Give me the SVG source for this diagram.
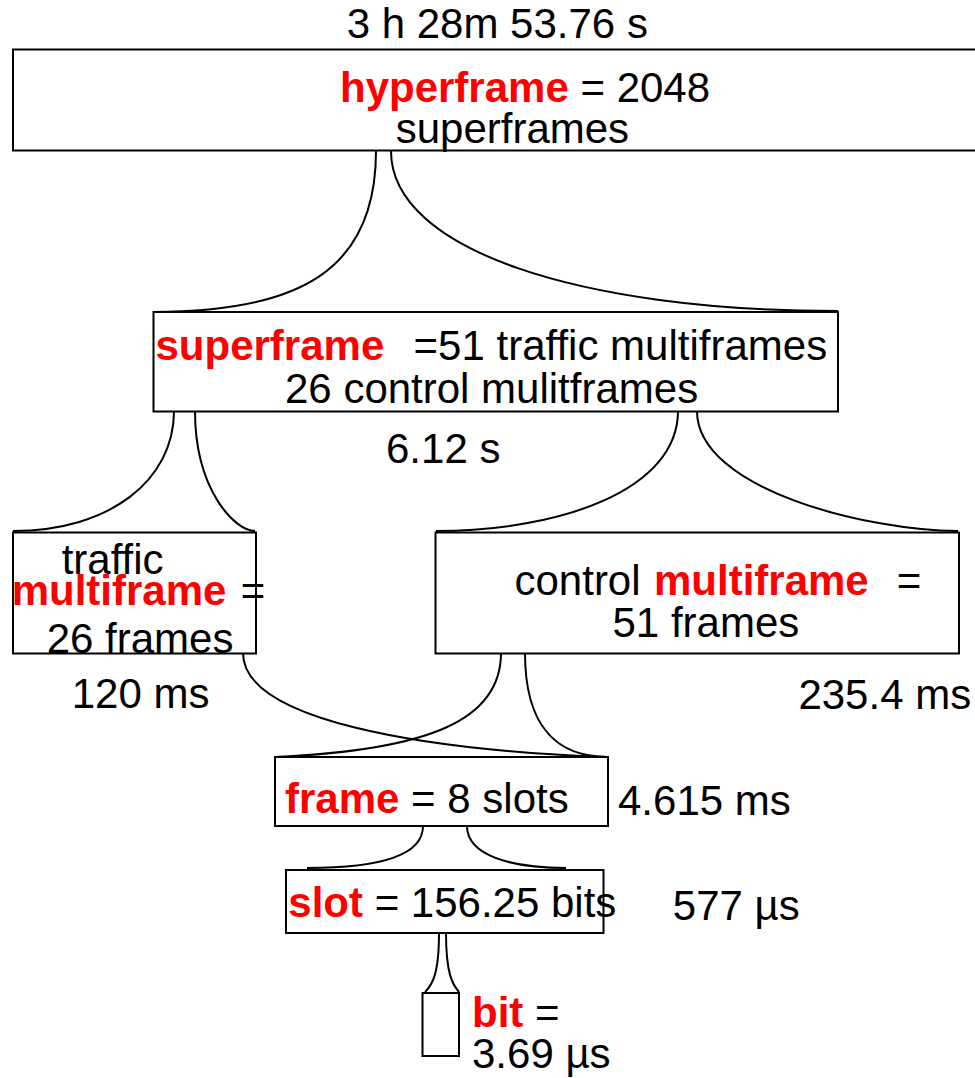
<svg xmlns="http://www.w3.org/2000/svg" width="975" height="1078" viewBox="0 0 975 1078">
  <style>
    .box { fill: #ffffff; stroke: #000000; stroke-width: 2; }
    .link { fill: none; stroke: #000000; stroke-width: 2; }
    text { font-family: "Liberation Sans", Arial, sans-serif; font-size: 42px; fill: #000000; }
    .key { font-weight: bold; fill: #ff0000; }
  </style>
  <rect width="975" height="1078" fill="#ffffff"/>

  <!-- connectors between levels -->
  <g id="connectors">
    <!-- hyperframe to superframe -->
    <path class="link" d="M376,151 C376,270 300,312 153,312"/>
    <path class="link" d="M391,151 C391,250 580,311 838,311"/>
    <!-- superframe to multiframes -->
    <path class="link" d="M174,411 C174,480 110,531 13,531"/>
    <path class="link" d="M195,411 C195,490 235,531 255,531"/>
    <path class="link" d="M678,411 C678,490 560,531 436,531"/>
    <path class="link" d="M697,411 C697,490 870,531 958,531"/>
    <!-- multiframes to frame -->
    <path class="link" d="M243,653 C243,720 420,750 607,757"/>
    <path class="link" d="M501,653 C501,720 430,750 275,757"/>
    <path class="link" d="M525,653 C525,730 560,757 608,757"/>
    <!-- frame to slot -->
    <path class="link" d="M423,826 C423,855 380,868 307,868"/>
    <path class="link" d="M467,826 C467,855 510,868 566,868"/>
    <!-- slot to bit -->
    <path class="link" d="M439,933 C439,975 432,985 425,992"/>
    <path class="link" d="M446,933 C446,975 453,985 459,992"/>
  </g>

  <g id="hyperframe">
    <text x="346.7" y="38.3">3 h 28m 53.76 s</text>
    <rect class="box" x="13" y="49.5" width="990" height="101"/>
    <text x="340" y="101.7"><tspan class="key">hyperframe</tspan> = 2048</text>
    <text x="395.7" y="143.3">superframes</text>
  </g>

  <g id="superframe">
    <rect class="box" x="153.5" y="312" width="684.5" height="99.5"/>
    <text y="360"><tspan class="key" x="155.5">superframe</tspan><tspan x="413.6">=51 traffic multiframes</tspan></text>
    <text x="285" y="402.7">26 control mulitframes</text>
    <text x="386" y="463">6.12 s</text>
  </g>

  <g id="traffic-multiframe">
    <rect class="box" x="13" y="532.5" width="243" height="121"/>
    <text x="61.7" y="574">traffic</text>
    <text y="605"><tspan class="key" x="11.7">multiframe</tspan><tspan x="240.7">=</tspan></text>
    <text x="46.7" y="652.7">26 frames</text>
    <text x="71.7" y="708.3">120 ms</text>
  </g>

  <g id="control-multiframe">
    <rect class="box" x="435.5" y="532.5" width="523.5" height="121"/>
    <text y="595"><tspan x="514.5">control</tspan><tspan class="key" x="654">multiframe</tspan><tspan x="896.8">=</tspan></text>
    <text x="612.5" y="637">51 frames</text>
    <text x="798.4" y="709">235.4 ms</text>
  </g>

  <g id="frame">
    <rect class="box" x="275" y="757" width="333" height="69"/>
    <text x="285" y="813"><tspan class="key">frame</tspan> = 8 slots</text>
    <text x="618" y="815">4.615 ms</text>
  </g>

  <g id="slot">
    <rect class="box" x="286" y="870" width="317.5" height="63"/>
    <text x="288.3" y="916.7"><tspan class="key">slot</tspan> = 156.25 bits</text>
    <text x="672.8" y="920">577 µs</text>
  </g>

  <g id="bit">
    <rect class="box" x="422.5" y="993" width="36.5" height="63"/>
    <text x="472" y="1027"><tspan class="key">bit</tspan> =</text>
    <text x="472" y="1068">3.69 µs</text>
  </g>
</svg>
